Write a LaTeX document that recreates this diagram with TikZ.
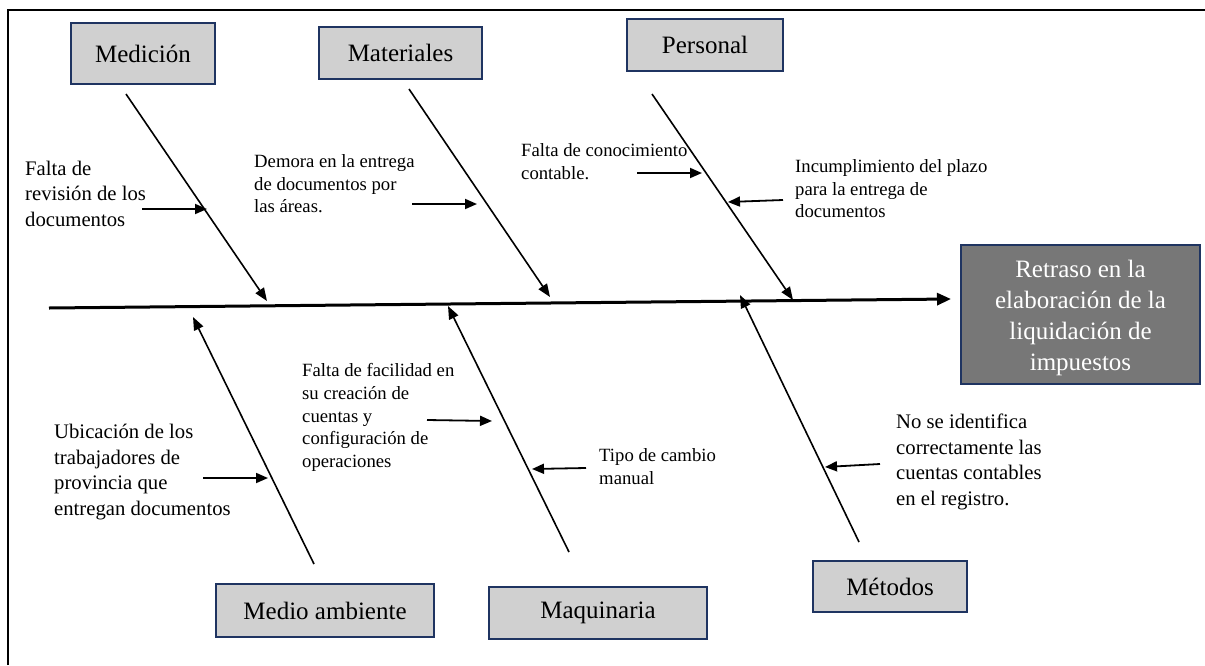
\documentclass[tikz,border=0pt]{standalone}
\usepackage{fontspec}
\setmainfont{Liberation Serif}
\usetikzlibrary{arrows.meta}
\definecolor{boxfill}{HTML}{D0D0D0}
\definecolor{boxline}{HTML}{1F3461}
\definecolor{effill}{HTML}{777777}
\begin{document}
\begin{tikzpicture}[x=1pt,y=-1pt,
  cat/.style={draw=boxline, line width=1.6pt, fill=boxfill, inner sep=0pt,
    font=\fontsize{25}{30}\selectfont},
  effect/.style={draw=boxline, line width=1.8pt, fill=effill, inner sep=0pt,
    text=white, align=center, font=\fontsize{25}{31}\selectfont},
  lab/.style={anchor=north west, inner sep=0pt, align=left},
  bigtxt/.style={font=\fontsize{20.7}{25.7}\selectfont},
  smalltxt/.style={font=\fontsize{18.7}{22.6}\selectfont},
  spine/.style={line width=3pt, -{Triangle[length=14pt,width=12pt]}},
  bone/.style={line width=1.6pt, -{Triangle[length=13pt,width=10pt]}},
  cause/.style={line width=1.8pt, -{Triangle[length=12pt,width=10pt]}}]
\useasboundingbox (0,0) rectangle (1205,665);
\draw[line width=2pt] (8,665) -- (8,10) -- (1205,10);

% category boxes
\node[cat, minimum width=144pt, minimum height=61pt] (med) at (143,53.5) {Medición};
\node[cat, minimum width=163pt, minimum height=52pt] (mat) at (400.5,53) {Materiales};
\node[cat, minimum width=156pt, minimum height=52pt] (per) at (705,45) {Personal};
\node[cat, minimum width=218pt, minimum height=53pt] (amb) at (325,610.5) {Medio ambiente};
\node[cat, minimum width=218pt, minimum height=52pt] (maq) at (598,613) {Maquinaria};
\node[cat, minimum width=154pt, minimum height=51pt] (met) at (890,586.5) {Métodos};
\node[draw=boxline, line width=1.8pt, fill=effill, minimum width=239pt, minimum height=139pt] (eff) at (1080.5,314.5) {};
\node[effect, draw=none, fill=none] (efftxt) at (1080.5,317.5)
  {Retraso en la\\elaboración de la\\liquidación de\\impuestos};

% spine
\coordinate (s0) at (49,308);
\coordinate (s1) at (951,299);
\draw[spine] (s0) -- (s1);

% bones
\coordinate (b1s) at (126,94);  \coordinate (b1e) at (267,301);
\coordinate (b2s) at (409,89);  \coordinate (b2e) at (550,297);
\coordinate (b3s) at (652,94);  \coordinate (b3e) at (793,300);
\coordinate (b4s) at (314,564); \coordinate (b4e) at (193,317);
\coordinate (b5s) at (569,552); \coordinate (b5e) at (448,306);
\coordinate (b6s) at (859,542); \coordinate (b6e) at (740,295);
\foreach \i in {1,...,6} \draw[bone] (b\i s) -- (b\i e);

% cause arrows
\coordinate (a1s) at (142,209); \coordinate (a1e) at (207,209);
\coordinate (a2s) at (412,204); \coordinate (a2e) at (477,204);
\coordinate (a3s) at (637,173); \coordinate (a3e) at (702,173);
\coordinate (a4s) at (783,200); \coordinate (a4e) at (728,202);
\coordinate (a5s) at (203,478); \coordinate (a5e) at (268,478);
\coordinate (a6s) at (427,420); \coordinate (a6e) at (492,421);
\coordinate (a7s) at (586,468); \coordinate (a7e) at (532,469);
\coordinate (a8s) at (880,464); \coordinate (a8e) at (825,467);
\foreach \i in {1,...,8} \draw[cause] (a\i s) -- (a\i e);

% labels
\node[lab, bigtxt] (t1) at (25,160.7) {Falta de\\revisión de los\\documentos};
\node[lab, smalltxt] (t2) at (254,154.6) {Demora en la entrega\\de documentos por\\las áreas.};
\node[lab, smalltxt] (t3) at (521,143.6) {Falta de conocimiento\\contable.};
\node[lab, smalltxt] (t4) at (795,159.6) {Incumplimiento del plazo\\para la entrega de\\documentos};
\node[lab, bigtxt] (t5) at (54,423.7) {Ubicación de los\\trabajadores de\\provincia que\\entregan documentos};
\node[lab, smalltxt] (t6) at (302,363.6) {Falta de facilidad en\\su creación de\\cuentas y\\configuración de\\operaciones};
\node[lab, smalltxt] (t7) at (599,448.6) {Tipo de cambio\\manual};
\node[lab, bigtxt] (t8) at (896,413.7) {No se identifica\\correctamente las\\cuentas contables\\en el registro.};
\end{tikzpicture}
\end{document}
